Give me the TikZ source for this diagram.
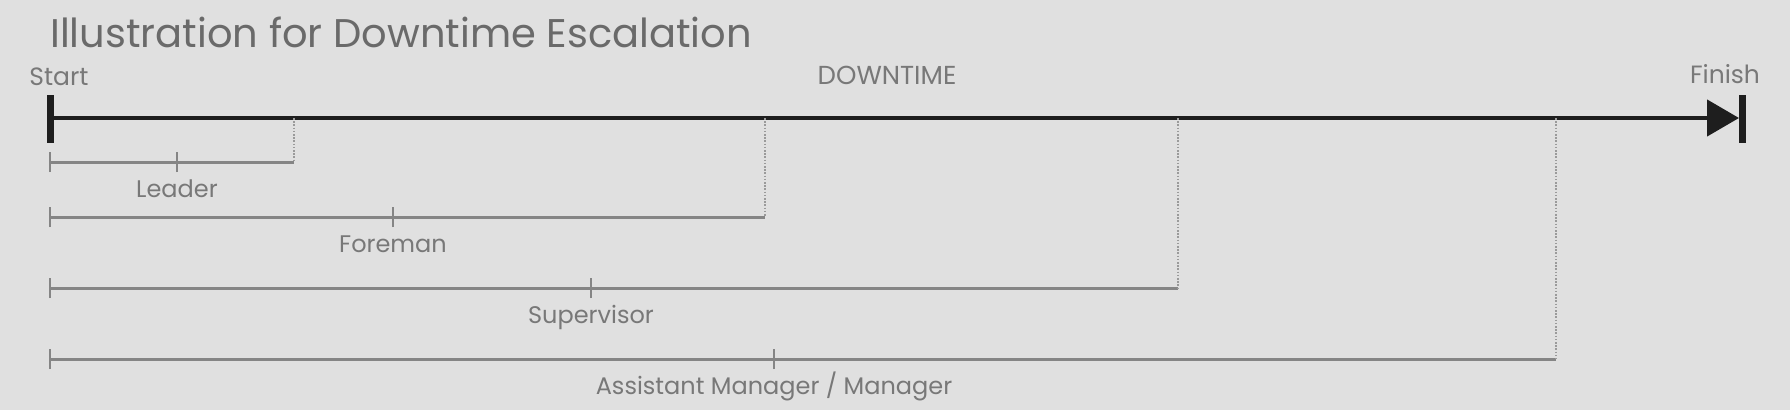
\documentclass[tikz,border=0pt]{standalone}
\usepackage{fontspec}
\setmainfont{Poppins}
\usetikzlibrary{arrows.meta}
\definecolor{bg}{HTML}{E0E0E0}
\definecolor{dark}{HTML}{1E1E1E}
\definecolor{subgray}{HTML}{858585}
\definecolor{dotgray}{HTML}{9A9A9A}
\definecolor{titlegray}{HTML}{6A6A6A}
\definecolor{labelgray}{HTML}{787878}
\begin{document}
\begin{tikzpicture}[x=1pt,y=-1pt,
  lbl/.style={font=\fontsize{24}{28}\selectfont, text=labelgray, inner sep=0pt, anchor=base},
  endlbl/.style={font=\fontsize{25}{29}\selectfont, text=labelgray, inner sep=0pt, anchor=base},
  subline/.style={draw=subgray, line width=3pt},
  tickmark/.style={draw=subgray, line width=2pt},
  dotline/.style={draw=dotgray, line width=1.6pt, dash pattern=on 1.6pt off 1.6pt},
  endbar/.style={draw=dark, line width=7pt},
  mainline/.style={draw=dark, line width=4.5pt}]
\useasboundingbox[fill=bg] (0,0) rectangle (1790,410);

% title
\node[font=\fontsize{40}{46}\selectfont, text=titlegray, inner sep=0pt, anchor=base west] (title) at (50,47) {Illustration for Downtime Escalation};

% main timeline
\coordinate (S) at (50,118);
\coordinate (St) at (50,95);
\coordinate (Sb) at (50,143);
\coordinate (F) at (1742,118);
\coordinate (Ft) at (1742,95);
\coordinate (Fb) at (1742,143);
\coordinate (Ftip) at (1739,118);
\draw[mainline, -{Triangle[length=32pt,width=36pt]}] (S) -- (Ftip);
\draw[endbar] (St) -- (Sb);
\draw[endbar] (Ft) -- (Fb);

\node[endlbl] (start) at (59,85) {Start};
\node[endlbl, font=\fontsize{26}{30}\selectfont] (down) at (887,84) {DOWNTIME};
\node[endlbl] (finish) at (1725,83) {Finish};

% escalation levels: name / line y / tick x / end x / label
\foreach \n/\y/\t/\e/\txt in {lead/162/177/294/{Leader}, fore/217/393/765/{Foreman}, sup/288/591/1178/{Supervisor}, man/359/774/1556/{Assistant Manager / Manager}}{
  \coordinate (\n-a) at (50,\y);
  \coordinate (\n-m) at (\t,\y);
  \coordinate (\n-e) at (\e,\y);
  \coordinate (\n-top) at (\e,118);
  \draw[subline] (\n-a) -- (\n-e);
  \draw[tickmark] ([yshift=-10pt]\n-a) -- ([yshift=10pt]\n-a);
  \draw[tickmark] ([yshift=-10pt]\n-m) -- ([yshift=10pt]\n-m);
  \draw[dotline] (\n-top) -- (\n-e);
  \node[lbl] (\n-lbl) at ([yshift=-35pt]\n-m) {\txt};
}
\end{tikzpicture}
\end{document}
